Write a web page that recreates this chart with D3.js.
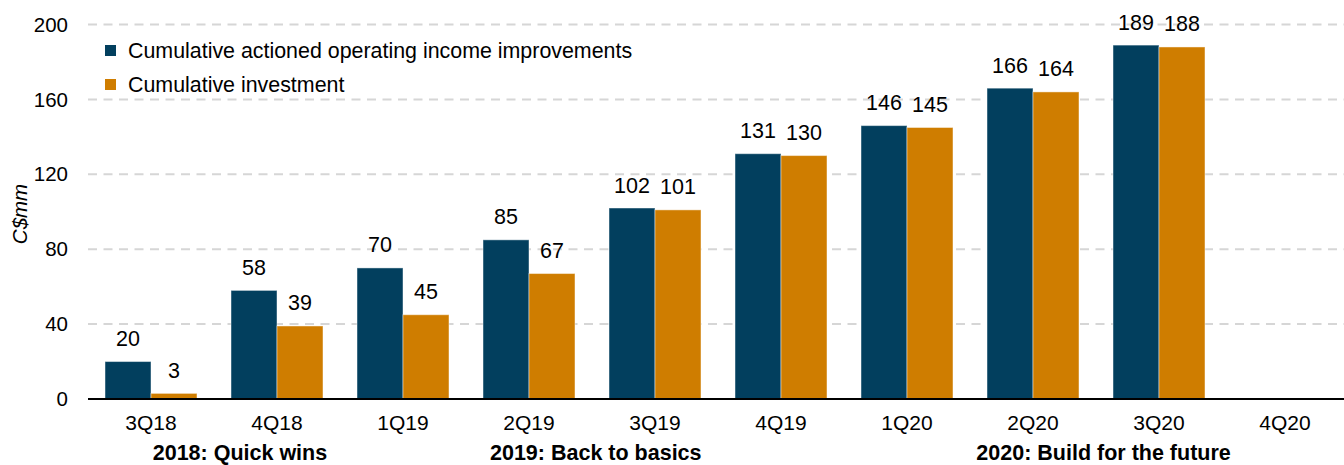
<!DOCTYPE html>
<html>
<head>
<meta charset="utf-8">
<script src="https://cdn.jsdelivr.net/npm/d3@7"></script>
<style>
  body { margin: 0; background: #fff; }
  svg text { font-family: "Liberation Sans", Arial, sans-serif; fill: #000; }
</style>
</head>
<body>
<svg id="chart" width="1344" height="465"></svg>
<script>
// chart data
var categories = ["3Q18", "4Q18", "1Q19", "2Q19", "3Q19", "4Q19", "1Q20", "2Q20", "3Q20", "4Q20"];
var improvements = [20, 58, 70, 85, 102, 131, 146, 166, 189, null];
var investment = [3, 39, 45, 67, 101, 130, 145, 164, 188, null];
var seriesNames = ["Cumulative actioned operating income improvements", "Cumulative investment"];
var yTicks = [0, 40, 80, 120, 160, 200];
var yearLabels = ["2018: Quick wins", "2019: Back to basics", "2020: Build for the future"];

var colors = ["#023f5e", "#cf7d00"];

var svg = d3.select("#chart");
var plotLeft = 88, plotRight = 1348, plotBottom = 399, plotTop = 24.5;

var x = d3.scaleBand().domain(categories).range([plotLeft, plotRight])
    .paddingInner(0.27).paddingOuter(0.135);
var x1 = d3.scaleBand().domain([0, 1]).range([0, x.bandwidth()]);
var y = d3.scaleLinear().domain([0, 200]).range([plotBottom, plotTop]);

// grid
svg.append("g").selectAll("line")
    .data(yTicks.filter(function(d) { return d > 0; }))
    .enter().append("line")
    .attr("x1", plotLeft).attr("x2", 1344)
    .attr("y1", function(d) { return y(d); })
    .attr("y2", function(d) { return y(d); })
    .attr("stroke", "#d6d6d6")
    .attr("stroke-width", 2)
    .attr("stroke-dasharray", "9,6.5");

// y tick labels
svg.append("g").selectAll("text")
    .data(yTicks)
    .enter().append("text")
    .attr("x", 68)
    .attr("y", function(d) { return y(d); })
    .attr("dy", "0.35em")
    .attr("text-anchor", "end")
    .style("font-size", "20.5px")
    .text(function(d) { return d; });

svg.append("text")
    .attr("transform", "translate(27,214) rotate(-90)")
    .attr("text-anchor", "middle")
    .style("font-size", "20.5px")
    .style("font-style", "italic")
    .text("C$mm");

// bars
var rows = categories.map(function(c, i) {
    return { cat: c, vals: [improvements[i], investment[i]] };
});

var groups = svg.append("g").selectAll("g")
    .data(rows)
    .enter().append("g")
    .attr("transform", function(d) { return "translate(" + x(d.cat) + ",0)"; });

function present(d) {
    return d.vals.map(function(v, k) { return { v: v, k: k }; })
        .filter(function(e) { return e.v != null; });
}

groups.selectAll("rect")
    .data(present)
    .enter().append("rect")
    .attr("x", function(d) { return x1(d.k); })
    .attr("y", function(d) { return y(d.v); })
    .attr("width", x1.bandwidth())
    .attr("height", function(d) { return plotBottom - y(d.v); })
    .attr("fill", function(d) { return colors[d.k]; })
    .attr("stroke", "rgba(255,255,255,0.45)")
    .attr("stroke-width", 1);

groups.selectAll("text")
    .data(present)
    .enter().append("text")
    .attr("x", function(d) { return x1(d.k) + x1.bandwidth() / 2; })
    .attr("y", function(d) { return y(d.v) - 15.5; })
    .attr("text-anchor", "middle")
    .style("font-size", "21.5px")
    .text(function(d) { return d.v; });

// baseline
svg.append("line")
    .attr("x1", plotLeft).attr("x2", 1344)
    .attr("y1", plotBottom).attr("y2", plotBottom)
    .attr("stroke", "#000").attr("stroke-width", 2);

// category labels
svg.append("g").selectAll("text")
    .data(categories)
    .enter().append("text")
    .attr("x", function(d) { return x(d) + x.bandwidth() / 2; })
    .attr("y", 430)
    .attr("text-anchor", "middle")
    .style("font-size", "21px")
    .text(function(d) { return d; });

// year labels, placed between their quarters
var yearPos = [["3Q18", 0.706], ["2Q19", 0.53], ["2Q20", 0.56]];
svg.append("g").selectAll("text")
    .data(yearLabels)
    .enter().append("text")
    .attr("x", function(d, i) { return x(yearPos[i][0]) + x.bandwidth() / 2 + yearPos[i][1] * x.step(); })
    .attr("y", 460)
    .attr("text-anchor", "middle")
    .style("font-size", "21.5px")
    .style("font-weight", "bold")
    .text(function(d) { return d; });

// legend
var legend = svg.append("g").selectAll("g")
    .data(seriesNames)
    .enter().append("g")
    .attr("transform", function(d, i) { return "translate(105," + (50.5 + i * 34) + ")"; });
legend.append("rect")
    .attr("x", 0).attr("y", -5.5)
    .attr("width", 11).attr("height", 11)
    .attr("fill", function(d, i) { return colors[i]; });
legend.append("text")
    .attr("x", 23).attr("dy", "0.35em")
    .style("font-size", "21.4px")
    .text(function(d) { return d; });
</script>
</body>
</html>
